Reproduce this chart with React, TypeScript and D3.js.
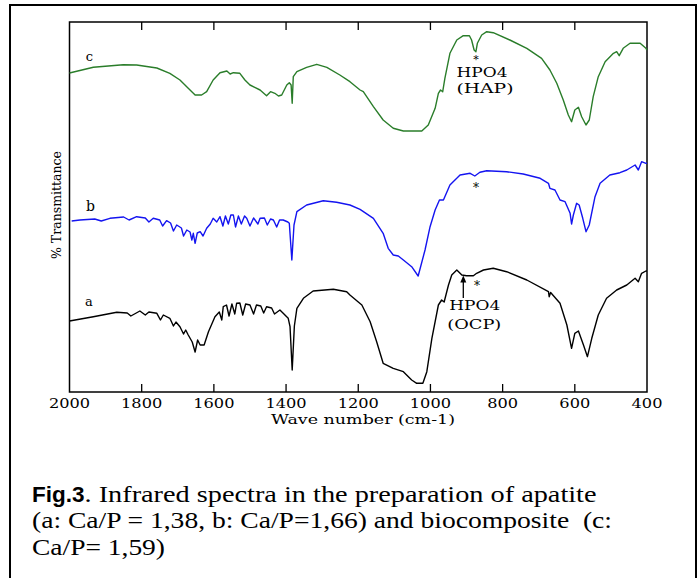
import React from 'react';
import * as d3 from 'd3';

// [wave number cm-1, transmittance (arbitrary units, offset per curve)]
const spectrumC: [number, number][] = [
  [2000, 319], [1934, 324.7], [1851, 327.3], [1814, 327], [1758, 324], [1722, 318.7], [1694, 312],
  [1671, 303.7], [1652, 297], [1634, 297], [1620, 300.3], [1602, 312], [1583, 319.3], [1564, 321],
  [1555, 318], [1546, 319.3], [1528, 318.7], [1514, 312], [1500, 307], [1472, 302], [1454, 296.3],
  [1443, 300.3], [1431, 298.7], [1421, 296], [1412, 297], [1398, 307], [1391, 309.3], [1386, 307],
  [1383, 288.7], [1380, 315.3], [1370, 320.3], [1343, 324.7], [1315, 327.7], [1287, 324.7],
  [1251, 317], [1223, 310.3], [1195, 302], [1186, 300.3], [1158, 285.3], [1131, 272], [1103, 263.7],
  [1075, 261], [1024, 261], [1006, 267], [987, 283.7], [978, 298.7], [972, 302], [966, 300.3],
  [960, 313.7], [946, 338.7], [927, 352], [909, 356.3], [892, 356.3], [886, 352], [879, 342],
  [874, 340.3], [870, 348.7], [858, 357], [844, 360.3], [826, 359.3], [780, 352], [733, 343.7],
  [692, 333.7], [669, 322], [650, 308.7], [632, 292], [618, 277], [609, 270.3], [600, 282],
  [590, 284.7], [581, 275.3], [569, 267], [560, 272], [549, 295.3], [535, 315.3], [516, 330.3],
  [493, 338.7], [484, 340.3], [477, 336.3], [466, 343.7], [447, 348.7], [419, 348.7], [403, 343.7],
  [400, 342],
];

const spectrumB: [number, number][] = [
  [1994, 171], [1971, 172], [1930, 173], [1912, 171], [1888, 173.7], [1850, 175], [1835, 172],
  [1814, 175.3], [1790, 174], [1780, 170], [1768, 173.7], [1750, 172], [1742, 166], [1731, 171.3],
  [1720, 169], [1712, 161], [1703, 167], [1690, 164], [1684, 156], [1675, 162], [1666, 160],
  [1661, 152], [1657, 158.7], [1652, 148.7], [1646, 159], [1638, 160.3], [1630, 156], [1620, 163.7],
  [1610, 168], [1602, 173.7], [1592, 170], [1583, 175.3], [1575, 166], [1568, 176], [1560, 168],
  [1553, 177], [1546, 177], [1540, 165], [1532, 176], [1524, 168], [1515, 176], [1509, 173.7],
  [1500, 166], [1490, 174], [1478, 168], [1472, 173.7], [1460, 174], [1452, 167], [1443, 173],
  [1435, 172], [1426, 165], [1418, 172], [1408, 172], [1395, 170], [1391, 168.7], [1384, 132],
  [1378, 167], [1370, 180.3], [1343, 187], [1297, 191.3], [1260, 189.7], [1223, 187], [1195, 182.7],
  [1158, 173.7], [1131, 158.7], [1117, 143.7], [1103, 137], [1089, 136], [1075, 132], [1052, 125.3],
  [1034, 116], [1015, 142], [1001, 165.3], [987, 182], [975, 192], [964, 192], [946, 207],
  [918, 217], [890, 218.7], [877, 216], [863, 219.7], [844, 221.3], [789, 220.3], [743, 218],
  [696, 213.7], [673, 208.7], [669, 203.7], [655, 202], [641, 192], [627, 190.3], [613, 178.7],
  [609, 168], [604, 177], [595, 188.7], [588, 187], [578, 173.7], [569, 160.3], [560, 167],
  [544, 195.3], [530, 208.7], [503, 217], [475, 219.3], [456, 222], [433, 227], [424, 222],
  [415, 230.3], [403, 228.7], [400, 229],
];

const spectrumA: [number, number][] = [
  [2000, 71], [1934, 75.3], [1869, 79.7], [1840, 79], [1830, 76], [1805, 81], [1790, 77], [1780, 80],
  [1758, 78.7], [1748, 72], [1740, 77], [1722, 73.7], [1712, 66], [1705, 70], [1694, 65.3],
  [1684, 58], [1678, 62], [1671, 57], [1660, 50], [1652, 40], [1645, 52], [1638, 47], [1627, 47],
  [1615, 60.3], [1597, 75.3], [1585, 80], [1578, 72], [1574, 85.3], [1565, 87], [1558, 76],
  [1550, 88], [1542, 78], [1537, 88.7], [1528, 89], [1520, 77], [1512, 88], [1500, 87], [1490, 78],
  [1482, 87], [1470, 86], [1462, 79], [1454, 85.3], [1440, 84], [1432, 78], [1417, 82],
  [1394, 73.7], [1389, 65.3], [1383, 22], [1377, 66], [1370, 83.7], [1352, 93.7], [1325, 101],
  [1269, 102.7], [1232, 100.3], [1223, 97], [1190, 87], [1167, 70.3], [1149, 50.3], [1131, 28.7],
  [1103, 23.7], [1075, 20.3], [1052, 12], [1038, 8.7], [1021, 8.7], [1010, 20.3], [996, 53.7],
  [978, 87], [969, 92], [962, 90], [950, 107], [941, 117], [927, 122], [913, 117], [900, 116.3],
  [881, 116.3], [872, 118.7], [853, 122], [826, 123.7], [789, 120.3], [733, 112], [673, 100.3],
  [671, 95.3], [667, 99.5], [641, 88.7], [622, 67], [609, 43.7], [600, 58.7], [590, 61], [576, 47],
  [565, 35.3], [553, 53.7], [535, 77], [512, 93.7], [484, 102], [456, 107], [433, 113.7],
  [424, 110.3], [415, 118.7], [403, 121], [400, 121],
];

const xTicks = [2000, 1800, 1600, 1400, 1200, 1000, 800, 600, 400];

const captionLines = [
  '(a: Ca/P = 1,38, b: Ca/P=1,66) and biocomposite  (c:',
  'Ca/P= 1,59)',
];

const plot = { left: 69.5, right: 647, top: 22, bottom: 392 };

const x = d3.scaleLinear().domain([2000, 400]).range([plot.left, plot.right]);
const y = d3.scaleLinear().domain([0, 370]).range([plot.bottom, plot.top]);

const line = d3
  .line<[number, number]>()
  .x(d => x(d[0]))
  .y(d => y(d[1]));

const serif = '"DejaVu Serif", serif';
const capSerif = '"Liberation Serif", serif';

export default function App() {
  const curves = [
    { data: spectrumC, color: '#2a7d2a' },
    { data: spectrumB, color: '#1414f0' },
    { data: spectrumA, color: '#000000' },
  ];

  return (
    <svg width={700} height={578} style={{ position: 'absolute', left: 0, top: 0, background: '#fff' }}>
      <rect x={0} y={0} width={700} height={578} fill="#fff" />
      {/* outer figure box */}
      <rect x={10} y={5} width={686} height={620} fill="none" stroke="#000" strokeWidth={2} />

      {/* plot frame */}
      <rect
        x={plot.left}
        y={plot.top}
        width={plot.right - plot.left}
        height={plot.bottom - plot.top}
        fill="none"
        stroke="#000"
        strokeWidth={1.5}
      />
      {xTicks.slice(1, -1).map(t => (
        <g key={t}>
          <line x1={x(t)} x2={x(t)} y1={plot.top} y2={plot.top + 8} stroke="#000" strokeWidth={1.3} />
          <line x1={x(t)} x2={x(t)} y1={plot.bottom} y2={plot.bottom - 8} stroke="#000" strokeWidth={1.3} />
        </g>
      ))}
      {xTicks.map(t => (
        <text
          key={'l' + t}
          x={x(t)}
          y={408}
          textAnchor="middle"
          fontFamily={serif}
          fontSize={13}
          textLength={String(t).length * 10.3}
          lengthAdjust="spacingAndGlyphs"
        >
          {t}
        </text>
      ))}
      <text x={363} y={424} textAnchor="middle" fontFamily={serif} fontSize={12.5} textLength={184} lengthAdjust="spacingAndGlyphs">
        Wave number (cm-1)
      </text>
      <text
        transform="translate(61,205) rotate(-90)"
        textAnchor="middle"
        fontFamily={serif}
        fontSize={12}
        textLength={108}
        lengthAdjust="spacingAndGlyphs"
      >
        % Transmittance
      </text>

      {curves.map((c, i) => (
        <path key={i} d={line(c.data) || ''} fill="none" stroke={c.color} strokeWidth={1.4} strokeLinejoin="round" />
      ))}

      {/* curve labels */}
      <text x={89.5} y={60.7} textAnchor="middle" fontFamily={serif} fontSize={13}>c</text>
      <text x={90.5} y={211} textAnchor="middle" fontFamily={serif} fontSize={14}>b</text>
      <text x={89} y={305.5} textAnchor="middle" fontFamily={serif} fontSize={13}>a</text>

      {/* annotations */}
      <text x={476} y={63} textAnchor="middle" fontFamily={serif} fontSize={11}>*</text>
      <text x={456.5} y={77} fontFamily={serif} fontSize={12} textLength={51} lengthAdjust="spacingAndGlyphs">HPO4</text>
      <text x={456.5} y={93} fontFamily={serif} fontSize={12} textLength={57} lengthAdjust="spacingAndGlyphs">(HAP)</text>

      <text x={476} y={191.5} textAnchor="middle" fontFamily={serif} fontSize={12}>*</text>

      <text x={477} y={290} textAnchor="middle" fontFamily={serif} fontSize={12}>*</text>
      <line x1={463.3} x2={463.3} y1={298} y2={281} stroke="#000" strokeWidth={1.3} />
      <path d="M463.3,275.5 L460.3,282.5 L466.3,282.5 Z" fill="#000" />
      <text x={449.3} y={310} fontFamily={serif} fontSize={12} textLength={51} lengthAdjust="spacingAndGlyphs">HPO4</text>
      <text x={447.3} y={329} fontFamily={serif} fontSize={12} textLength={54} lengthAdjust="spacingAndGlyphs">(OCP)</text>

      {/* caption */}
      <text x={32} y={502} fontSize={24}>
        <tspan fontFamily='"Liberation Sans", Arial, sans-serif' fontWeight="bold" fontSize={22.5}>Fig.3</tspan>
        <tspan fontFamily={capSerif} textLength={512} lengthAdjust="spacingAndGlyphs">. Infrared spectra in the preparation of apatite</tspan>
      </text>
      <text x={32} y={528} fontFamily={capSerif} fontSize={24} textLength={580} lengthAdjust="spacingAndGlyphs" style={{ whiteSpace: 'pre' }}>
        {captionLines[0]}
      </text>
      <text x={32} y={555} fontFamily={capSerif} fontSize={24} textLength={133} lengthAdjust="spacingAndGlyphs">
        {captionLines[1]}
      </text>
    </svg>
  );
}
